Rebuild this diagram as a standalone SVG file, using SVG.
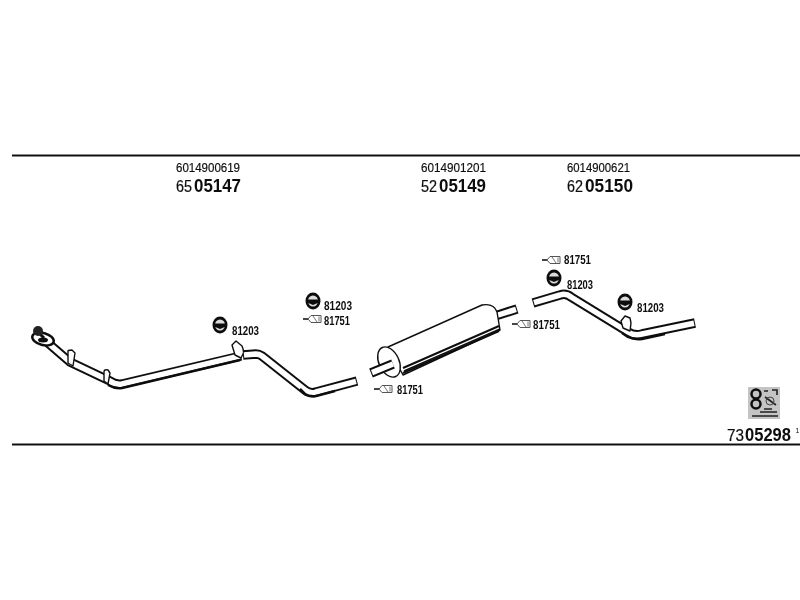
<svg xmlns="http://www.w3.org/2000/svg" width="800" height="600" viewBox="0 0 800 600">
<defs>
<filter id="soft" x="-5%" y="-5%" width="110%" height="110%"><feGaussianBlur stdDeviation="0.4"/></filter>
<style>
text{font-family:"Liberation Sans",Arial,sans-serif;fill:#111}
.num{font-size:13.500px;stroke:#111;stroke-width:.2}
.big{font-size:19px;font-weight:bold}
.pre{font-size:17px;stroke:#111;stroke-width:.2}
.ref{font-size:13px;font-weight:bold}
.rule{stroke:#111;stroke-width:2;fill:none}
.po{fill:none;stroke:#111;stroke-width:9.500;stroke-linejoin:round;stroke-linecap:butt}
.pi{fill:none;stroke:#fff;stroke-width:5.500;stroke-linejoin:round;stroke-linecap:butt}
.ps{fill:none;stroke:#111;stroke-width:2.500;stroke-linejoin:round}
.b{fill:#fff;stroke:#111;stroke-width:1.400;stroke-linejoin:round}
</style>
<g id="ring">
<ellipse cx="0" cy="0" rx="7.500" ry="8.500" fill="#111"/>
<ellipse cx="0" cy="0" rx="5" ry="5.500" fill="#ddd"/>
<path d="M-6-1.500H6V1.500L0 4L-6 1.500Z" fill="#111"/>
</g>
<g id="clip">
<path d="M-6 0L-3-3.500H7V3.500H-3Z" fill="#fff" stroke="#555" stroke-width="1"/>
<path d="M-11 0H-6" stroke="#444" stroke-width="2"/>
<path d="M-1-3L3 3M5-2.500V2.500" stroke="#777" stroke-width="1"/>
</g>
</defs>
<rect width="800" height="600" fill="#fff"/>
<g filter="url(#soft)">
<g id="frame">
<path class="rule" d="M12 155.500H800M12 444.500H800"/>
</g>
<g id="headers">
<text class="num" x="176" y="172" textLength="64" lengthAdjust="spacingAndGlyphs">6014900619</text>
<text class="pre" x="176" y="192" textLength="16" lengthAdjust="spacingAndGlyphs">65</text>
<text class="big" x="194" y="192" textLength="47" lengthAdjust="spacingAndGlyphs">05147</text>
<text class="num" x="421" y="172" textLength="65" lengthAdjust="spacingAndGlyphs">6014901201</text>
<text class="pre" x="421" y="192" textLength="16" lengthAdjust="spacingAndGlyphs">52</text>
<text class="big" x="439" y="192" textLength="47" lengthAdjust="spacingAndGlyphs">05149</text>
<text class="num" x="567" y="172" textLength="63" lengthAdjust="spacingAndGlyphs">6014900621</text>
<text class="pre" x="567" y="192" textLength="16" lengthAdjust="spacingAndGlyphs">62</text>
<text class="big" x="585" y="192" textLength="48" lengthAdjust="spacingAndGlyphs">05150</text>
</g>
<g id="pipe-front">
<path class="po" d="M48 343L70 362L110 381Q115 385 122 384L241 356"/>
<path class="pi" d="M48 343L70 362L110 381Q115 385 122 384L240 356"/>
<path class="ps" d="M108 385Q115 389 122 388L240 360"/>
<ellipse cx="43" cy="339" rx="11" ry="6" transform="rotate(15 43 339)" fill="#fff" stroke="#111" stroke-width="2.500"/>
<ellipse cx="43" cy="340" rx="5" ry="2.500" fill="#111"/>
<path d="M39 333L44 338" stroke="#111" stroke-width="3"/>
<circle cx="38" cy="331" r="5" fill="#222"/>
<path class="b" d="M68 352Q67 350 72 350L75 353L73 366L68 363Z"/>
<path class="b" d="M104 372Q104 369 108 370L110 373L108 384L104 381Z"/>
<path class="b" d="M232 345L236 341L242 346L244 352L241 358L235 355Z"/>
<path class="po" d="M243 355L256 354Q259 354 262 356L305 390Q310 394 316 392L357 381"/>
<path class="pi" d="M244 355L256 354Q259 354 262 356L305 390Q310 394 316 392L356 381.300"/>
<path class="ps" d="M300 389L305 394Q310 397 316 396L335 391"/>
</g>
<g id="muffler">
<path class="po" d="M495 316L517 309"/>
<path class="pi" d="M495 316L516 309.300"/>
<path class="b" d="M388 347L482 305Q494 303 497 312L500 330L403 375Z"/>
<path d="M403 368L499 326M403 373L499 331" fill="none" stroke="#111" stroke-width="2"/>
<path d="M404 371L500 329" fill="none" stroke="#111" stroke-width="1.500"/>
<ellipse class="b" cx="389" cy="362" rx="10" ry="16" transform="rotate(-25 389 362)"/>
<path class="po" d="M371 373L393 364"/>
<path class="pi" d="M372 372.600L393 364"/>
</g>
<g id="pipe-rear">
<path class="po" d="M533 303L560 295Q566 293 571 297L628 332Q634 336 642 334L695 323"/>
<path class="pi" d="M534 302.700L560 295Q566 293 571 297L628 332Q634 336 642 334L694 323.200"/>
<path class="ps" d="M622 333L628 337Q634 340 642 339L665 334"/>
<path class="b" d="M621 321L625 316L630 318L631 323L630 331L623 328Z"/>
</g>
<g id="ring-1"><use href="#ring" x="220" y="325"/><text class="ref" x="232" y="335" textLength="27" lengthAdjust="spacingAndGlyphs">81203</text></g>
<g id="ring-2"><use href="#ring" x="313" y="301"/><text class="ref" x="324" y="310" textLength="28" lengthAdjust="spacingAndGlyphs">81203</text></g>
<g id="clip-1"><use href="#clip" x="314" y="319"/><text class="ref" x="324" y="325" textLength="26" lengthAdjust="spacingAndGlyphs">81751</text></g>
<g id="clip-2"><use href="#clip" x="385" y="389"/><text class="ref" x="397" y="394" textLength="26" lengthAdjust="spacingAndGlyphs">81751</text></g>
<g id="clip-3"><use href="#clip" x="523" y="324"/><text class="ref" x="533" y="329" textLength="27" lengthAdjust="spacingAndGlyphs">81751</text></g>
<g id="clip-4"><use href="#clip" x="553" y="260"/><text class="ref" x="564" y="264" textLength="27" lengthAdjust="spacingAndGlyphs">81751</text></g>
<g id="ring-3"><use href="#ring" x="554" y="278"/><text class="ref" x="567" y="289" textLength="26" lengthAdjust="spacingAndGlyphs">81203</text></g>
<g id="ring-4"><use href="#ring" x="625" y="302"/><text class="ref" x="637" y="312" textLength="27" lengthAdjust="spacingAndGlyphs">81203</text></g>
<g id="kit">
<rect x="748" y="387" width="32" height="32" fill="#c4c4c4"/>
<circle cx="756" cy="394" r="4.500" fill="none" stroke="#111" stroke-width="2.500"/>
<circle cx="756" cy="404" r="4.500" fill="none" stroke="#111" stroke-width="2.500"/>
<path d="M764 391H768M772 390H777V395M765 397L776 405M764 409H772M752 416H778M760 412H777" stroke="#222" stroke-width="1.600" fill="none"/>
<circle cx="770" cy="401" r="4" fill="none" stroke="#444"/>
<text class="pre" x="727" y="441" textLength="17" lengthAdjust="spacingAndGlyphs">73</text>
<text class="big" x="745" y="441" textLength="46" lengthAdjust="spacingAndGlyphs" style="font-size:17.500px">05298</text>
<text x="795.500" y="433" style="font-size:7px">1</text>
</g>
</g>
</svg>
